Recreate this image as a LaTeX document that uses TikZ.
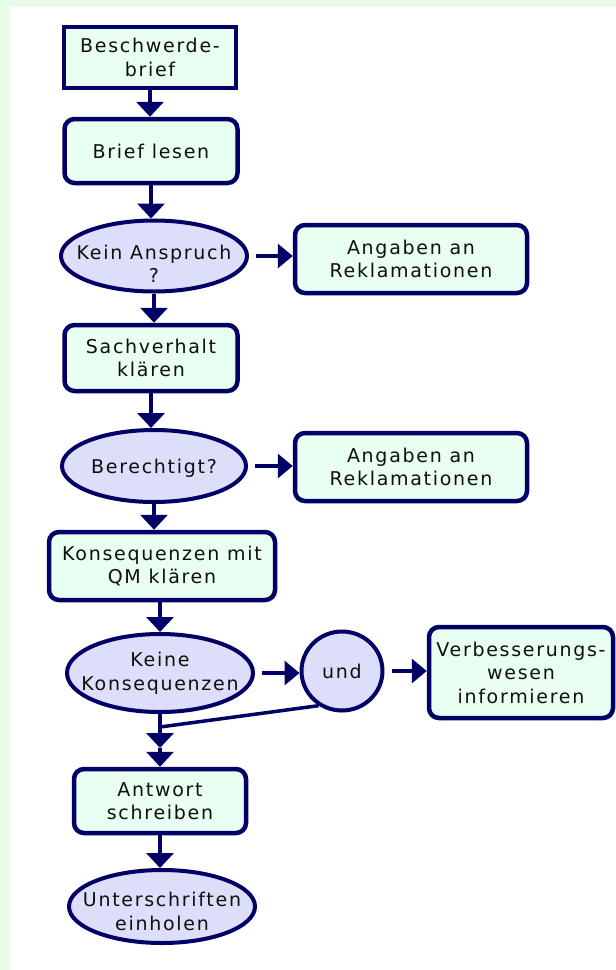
\documentclass[tikz,border=0pt]{standalone}
\usepackage{fontspec}
\setmainfont{DejaVu Sans}[LetterSpace=9]
\usetikzlibrary{shapes.geometric,arrows.meta}
\definecolor{navy}{RGB}{0,0,102}
\definecolor{boxfill}{RGB}{232,255,242}
\definecolor{ellfill}{RGB}{221,222,250}
\definecolor{bggreen}{RGB}{232,252,232}
\definecolor{txt}{RGB}{15,15,15}
\tikzset{
  base/.style={draw=navy, text=txt, font=\fontsize{19}{23.5}\selectfont, align=center, inner sep=0pt},
  sqbox/.style={base, rectangle, fill=boxfill, line width=4.5pt},
  rbox/.style={sqbox, rounded corners=10pt},
  ell/.style={base, ellipse, fill=ellfill, line width=4pt},
  lbl/.style={text=txt, font=\fontsize{19}{23.5}\selectfont, align=center, inner sep=0pt},
  arr/.style={draw=navy, line width=3.5pt, -{Triangle[length=15pt,width=27pt]}},
  harr/.style={draw=navy, line width=3.5pt, shorten <=7pt, -{Triangle[length=15pt,width=24pt]}},
  conn/.style={draw=navy, line width=3.5pt},
}
\begin{document}
\begin{tikzpicture}[x=1pt,y=-1pt]
\useasboundingbox (0,0) rectangle (616,970);
\fill[bggreen] (0,0) rectangle (616,970);
\fill[white] (10,7) rectangle (616,970);

\node[sqbox, minimum width=172pt, minimum height=61pt] (b0) at (150,57.5) {Beschwerde-\\brief};
\node[rbox, minimum width=173pt, minimum height=64pt] (b1) at (151,151) {Brief lesen};
\node[ell, minimum width=186pt, minimum height=71pt, label={[lbl,yshift=-8pt]center:Kein Anspruch\\?}] (e1) at (154,256) {};
\node[rbox, minimum width=232pt, minimum height=68pt] (a1) at (411,259) {Angaben an\\Reklamationen};
\node[rbox, minimum width=173pt, minimum height=66pt] (b2) at (151,358) {Sachverhalt\\klären};
\node[ell, minimum width=184pt, minimum height=72pt, label={[lbl,yshift=-2pt]center:Berechtigt?}] (e2) at (154,466) {};
\node[rbox, minimum width=232pt, minimum height=68pt] (a2) at (411,467) {Angaben an\\Reklamationen};
\node[rbox, minimum width=226pt, minimum height=68pt] (b3) at (162,566) {Konsequenzen mit\\QM klären};
\node[ell, minimum width=186pt, minimum height=78pt, label={[lbl]center:Keine\\Konsequenzen}] (e3) at (160,673) {};
\node[ell, minimum width=81pt, minimum height=79pt, label={[lbl]center:und}] (und) at (342,671) {};
\node[rbox, minimum width=184pt, minimum height=91pt] (v) at (521,672.5) {Verbesserungs-\\wesen\\informieren};
\node[rbox, minimum width=172pt, minimum height=64pt] (b4) at (160,801) {Antwort\\schreiben};
\node[ell, minimum width=186pt, minimum height=73pt, label={[lbl,yshift=-5pt]center:Unterschriften\\einholen}] (e4) at (162,906.5) {};

\coordinate (M) at (160,727);
\coordinate (J) at (160,748);

\draw[arr] (b0.south) -- (b0.south |- b1.north);
\draw[arr] (b1.south) -- (b1.south |- e1.north);
\draw[arr] (e1.south) -- (e1.south |- b2.north);
\draw[arr] (b2.south) -- (b2.south |- e2.north);
\draw[arr] (e2.south) -- (e2.south |- b3.north);
\draw[arr] (b3.south -| e3.north) -- (e3.north);
\draw[arr] (e3.south) -- (J);
\draw[conn] (und.236) -- (M);
\draw[arr] (J) -- (J |- b4.north);
\draw[arr] (b4.south) -- (b4.south |- e4.north);

\draw[harr] (e1.east) -- (e1.east -| a1.west);
\draw[harr] (e2.east) -- (e2.east -| a2.west);
\draw[harr] (e3.east) -- (e3.east -| und.west);
\draw[harr] (und.east) -- (und.east -| v.west);
\end{tikzpicture}
\end{document}
